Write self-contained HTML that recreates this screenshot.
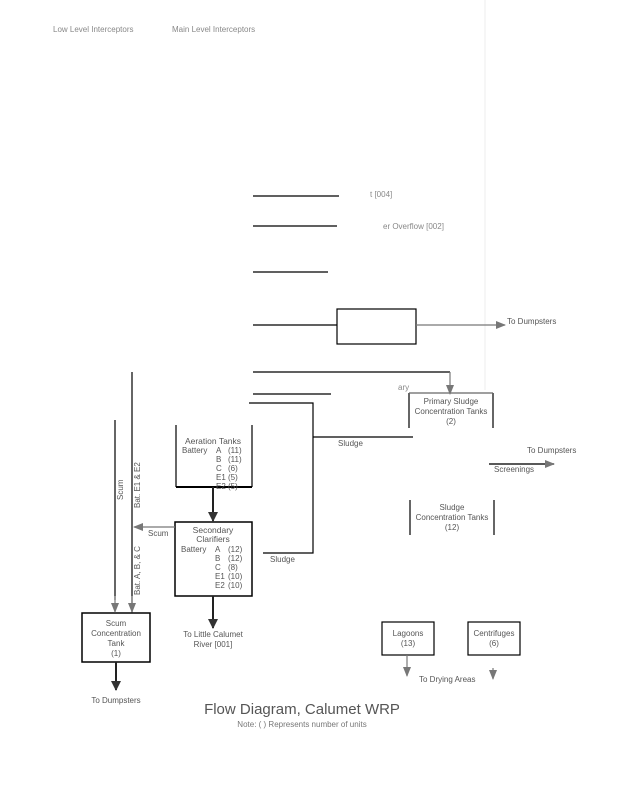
<!DOCTYPE html>
<html><head><style>
html,body{margin:0;padding:0;background:#fff;}
svg{display:block;font-family:"Liberation Sans",sans-serif;}
</style></head><body>
<svg width="619" height="800" viewBox="0 0 619 800" xmlns="http://www.w3.org/2000/svg">
<defs>
<marker id="g" markerWidth="10" markerHeight="10" refX="9" refY="5" orient="auto" markerUnits="userSpaceOnUse"><path d="M0,1 L10,5 L0,9 Z" fill="#777"/></marker>
<marker id="b" markerWidth="10" markerHeight="12" refX="9" refY="6" orient="auto" markerUnits="userSpaceOnUse"><path d="M0,1 L10,6 L0,11 Z" fill="#333"/></marker>
</defs>
<line x1="485" y1="0" x2="485" y2="390" stroke="#eee" stroke-width="1"/>
<g font-size="8" fill="#888">
<text x="53" y="32">Low Level Interceptors</text>
<text x="172" y="32">Main Level Interceptors</text>
<text x="370" y="197">t [004]</text>
<text x="383" y="229">er Overflow [002]</text>
<text x="398" y="390">ary</text>
</g>
<g stroke="#000" stroke-width="1.2" fill="none">
<line x1="253" y1="196" x2="339" y2="196"/>
<line x1="253" y1="226" x2="337" y2="226"/>
<line x1="253" y1="272" x2="328" y2="272"/>
<line x1="253" y1="325" x2="337" y2="325"/>
<rect x="337" y="309" width="79" height="35"/>
<line x1="253" y1="372" x2="450" y2="372"/>
<line x1="253" y1="394" x2="331" y2="394"/>
<polyline points="249,403 313,403 313,553 263,553"/>
<line x1="313" y1="437" x2="413" y2="437"/>
<line x1="176" y1="425" x2="176" y2="487"/>
<line x1="252" y1="425" x2="252" y2="487"/>
<line x1="176" y1="487" x2="252" y2="487" stroke-width="2"/>
<rect x="175" y="522" width="77" height="74" stroke-width="1.5"/>
<line x1="115" y1="420" x2="115" y2="600"/>
<line x1="132" y1="372" x2="132" y2="613"/>
<rect x="82" y="613" width="68" height="49" stroke-width="1.5"/>
<line x1="409" y1="393" x2="409" y2="428"/>
<line x1="493" y1="393" x2="493" y2="428"/>
<line x1="409" y1="393" x2="493" y2="393" stroke="#666"/>
<line x1="410" y1="500" x2="410" y2="535"/>
<line x1="494" y1="500" x2="494" y2="535"/>
<rect x="382" y="622" width="52" height="33"/>
<rect x="468" y="622" width="52" height="33"/>
</g>
<g stroke="#777" stroke-width="1.2">
<line x1="416" y1="325" x2="505" y2="325" marker-end="url(#g)"/>
<line x1="450" y1="372" x2="450" y2="394" marker-end="url(#g)"/>
<line x1="175" y1="527" x2="134" y2="527" marker-end="url(#g)"/>
<line x1="115" y1="596" x2="115" y2="612" marker-end="url(#g)"/>
<line x1="132" y1="596" x2="132" y2="612" marker-end="url(#g)"/>
<line x1="407" y1="655" x2="407" y2="676" marker-end="url(#g)"/>
<line x1="493" y1="668" x2="493" y2="679" marker-end="url(#g)"/>
</g>
<g stroke="#222" stroke-width="2">
<line x1="213" y1="487" x2="213" y2="521" marker-end="url(#b)"/>
<line x1="213" y1="596" x2="213" y2="628" marker-end="url(#b)"/>
<line x1="116" y1="662" x2="116" y2="690" marker-end="url(#b)"/>
<line x1="489" y1="464" x2="554" y2="464" stroke-width="1.5" marker-end="url(#g)"/>
</g>
<g font-size="8" fill="#555">
<text x="507" y="324">To Dumpsters</text>
<g text-anchor="middle">
<text x="451" y="404">Primary Sludge</text>
<text x="451" y="414">Concentration Tanks</text>
<text x="451" y="424">(2)</text>
<text x="213" y="444" font-size="8.5">Aeration Tanks</text>
<text x="213" y="533" font-size="8.5">Secondary</text>
<text x="213" y="542" font-size="8.5">Clarifiers</text>
<text x="116" y="626">Scum</text>
<text x="116" y="636">Concentration</text>
<text x="116" y="646">Tank</text>
<text x="116" y="656">(1)</text>
<text x="116" y="703">To Dumpsters</text>
<text x="213" y="637">To Little Calumet</text>
<text x="213" y="647">River [001]</text>
<text x="452" y="510">Sludge</text>
<text x="452" y="520">Concentration Tanks</text>
<text x="452" y="530">(12)</text>
<text x="408" y="636">Lagoons</text>
<text x="408" y="646">(13)</text>
<text x="494" y="636">Centrifuges</text>
<text x="494" y="646">(6)</text>
</g>
<text x="182" y="444" dy="9">Battery</text>
<text x="216" y="453">A</text><text x="228" y="453">(11)</text>
<text x="216" y="462">B</text><text x="228" y="462">(11)</text>
<text x="216" y="471">C</text><text x="228" y="471">(6)</text>
<text x="216" y="480">E1</text><text x="228" y="480">(5)</text>
<text x="216" y="489">E2</text><text x="228" y="489">(5)</text>
<text x="181" y="552">Battery</text>
<text x="215" y="552">A</text><text x="228" y="552">(12)</text>
<text x="215" y="561">B</text><text x="228" y="561">(12)</text>
<text x="215" y="570">C</text><text x="228" y="570">(8)</text>
<text x="215" y="579">E1</text><text x="228" y="579">(10)</text>
<text x="215" y="588">E2</text><text x="228" y="588">(10)</text>
<text x="338" y="446">Sludge</text>
<text x="270" y="562">Sludge</text>
<text x="148" y="536">Scum</text>
<text x="527" y="453">To Dumpsters</text>
<text x="494" y="472">Screenings</text>
<text x="419" y="682">To Drying Areas</text>
<text transform="translate(123,500) rotate(-90)">Scum</text>
<text transform="translate(140,508) rotate(-90)">Bat. E1 &amp; E2</text>
<text transform="translate(140,595) rotate(-90)">Bat. A, B, &amp; C</text>
</g>
<text x="302" y="714" font-size="15" fill="#555" text-anchor="middle">Flow Diagram, Calumet WRP</text>
<text x="302" y="727" font-size="8" fill="#777" text-anchor="middle">Note: ( ) Represents number of units</text>
</svg>
</body></html>
